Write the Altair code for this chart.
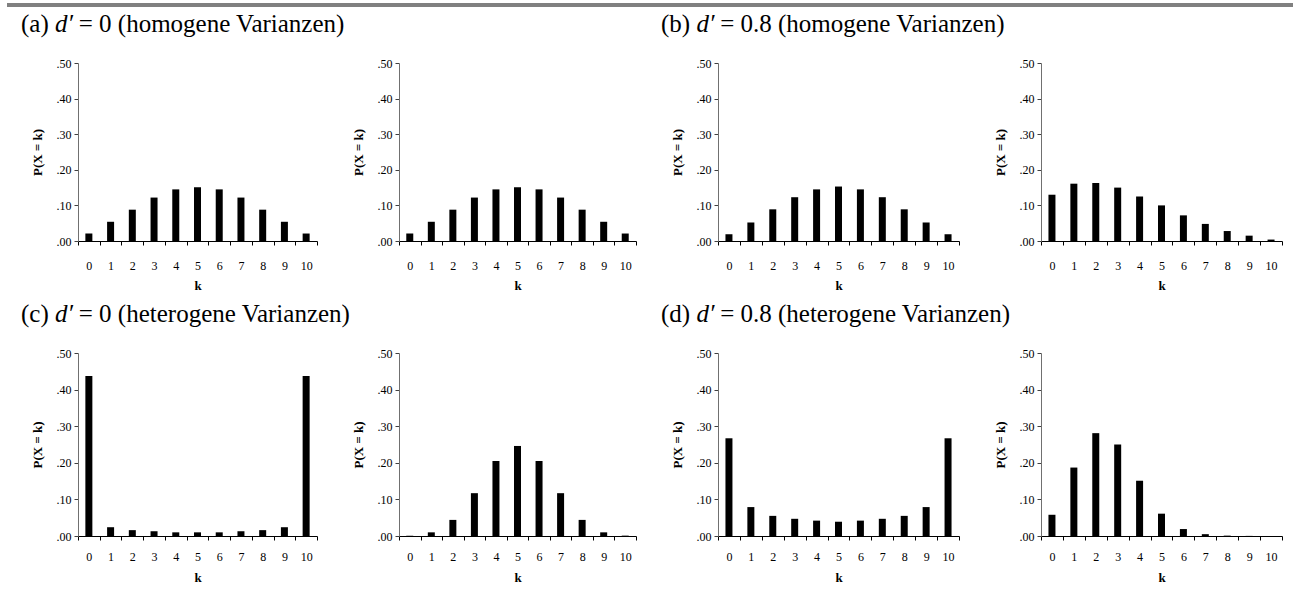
import altair as alt
import pandas as pd

K = list(range(11))
A_LEFT = [0.021, 0.054, 0.088, 0.122, 0.145, 0.151, 0.145, 0.122, 0.088, 0.054, 0.021]
A_RIGHT = [0.021, 0.054, 0.088, 0.122, 0.145, 0.151, 0.145, 0.122, 0.088, 0.054, 0.021]
B_LEFT = [0.019, 0.052, 0.089, 0.123, 0.145, 0.153, 0.145, 0.123, 0.089, 0.052, 0.019]
B_RIGHT = [0.130, 0.161, 0.163, 0.150, 0.125, 0.100, 0.072, 0.048, 0.028, 0.015, 0.004]
C_LEFT = [0.437, 0.024, 0.016, 0.013, 0.010, 0.010, 0.010, 0.013, 0.016, 0.024, 0.437]
C_RIGHT = [0.001, 0.010, 0.044, 0.117, 0.205, 0.246, 0.205, 0.117, 0.044, 0.010, 0.001]
D_LEFT = [0.267, 0.079, 0.055, 0.047, 0.042, 0.039, 0.042, 0.047, 0.055, 0.079, 0.267]
D_RIGHT = [0.058, 0.187, 0.281, 0.250, 0.151, 0.061, 0.019, 0.005, 0.001, 0.0003, 0.0]

# group titles: (label, italic part, rest)
TITLES = {
    "a": ("(a)", "d′", "= 0 (homogene Varianzen)"),
    "b": ("(b)", "d′", "= 0.8 (homogene Varianzen)"),
    "c": ("(c)", "d′", "= 0 (heterogene Varianzen)"),
    "d": ("(d)", "d′", "= 0.8 (heterogene Varianzen)"),
}
Y_TICKS = [0.0, 0.1, 0.2, 0.3, 0.4, 0.5]
FONT = "Liberation Serif"
TFS = 25  # group title font size

WIDTHS = [239, 237, 241, 241]
ROW_H = [178, 183]
X_LABEL_PAD = [15, 11]
X_TITLE_PAD = [8, 9]


def bars(values, w, h, r):
    df = pd.DataFrame({"k": K, "p": values})
    return alt.Chart(df).mark_bar(color="black", width=7).encode(
        x=alt.X(
            "k:O",
            title="k",
            scale=alt.Scale(paddingInner=0, paddingOuter=0),
            axis=alt.Axis(
                labelAngle=0, tickBand="extent", domainColor="black",
                tickColor="black", tickSize=4, labelPadding=X_LABEL_PAD[r],
                titlePadding=X_TITLE_PAD[r],
            ),
        ),
        y=alt.Y(
            "p:Q",
            title="P(X = k)",
            scale=alt.Scale(domain=[0, 0.5]),
            axis=alt.Axis(
                values=Y_TICKS,
                labelExpr="substring(format(datum.value, '.2f'), 1)",
                grid=False, domainColor="#707070", tickColor="#404040",
                tickSize=4, labelPadding=3, titlePadding=12,
            ),
        ),
    ).properties(width=w, height=h)


def title_layers(key):
    lab, ital, rest = TITLES[key]
    x0 = -57
    y0 = -31
    adv1 = (1.416 if key in ("b", "d") else 1.36) * TFS
    layers = []
    for txt, dx, style in ((lab, 0, "normal"), (ital, adv1, "italic"), (rest, adv1 + 0.95 * TFS, "normal")):
        layers.append(
            alt.Chart(alt.Data(values=[{"t": txt}])).mark_text(
                align="left", baseline="alphabetic", font=FONT, fontSize=TFS,
                fontStyle=style, color="black",
            ).encode(text="t:N", x=alt.value(x0 + dx), y=alt.value(y0))
        )
    return layers


def top_rule():
    return alt.Chart(alt.Data(values=[{"r": 1}])).mark_rule(
        color="#808080", strokeWidth=4
    ).encode(x=alt.value(-71), x2=alt.value(1215), y=alt.value(-58))


panels = []
row1 = [("a", A_LEFT), (None, A_RIGHT), ("b", B_LEFT), (None, B_RIGHT)]
row2 = [("c", C_LEFT), (None, C_RIGHT), ("d", D_LEFT), (None, D_RIGHT)]
for r, row in enumerate((row1, row2)):
    for c, (key, vals) in enumerate(row):
        layers = [bars(vals, WIDTHS[c], ROW_H[r], r)]
        if key is not None:
            layers += title_layers(key)
        if r == 0 and c == 0:
            layers.append(top_rule())
        panels.append(alt.layer(*layers).properties(width=WIDTHS[c], height=ROW_H[r]))

chart = alt.concat(
    *panels, columns=4, spacing={"row": 112, "column": 82}, bounds="flush", align="each"
).properties(
    padding={"left": 5, "top": 3, "right": 0, "bottom": 5}
).configure_view(stroke=None).configure_axis(
    labelFont=FONT, titleFont=FONT, labelFontSize=12, titleFontSize=13,
    labelColor="black", titleColor="black", titleFontWeight="bold", grid=False,
)

chart.save("out.html", embed_options={"renderer": "svg", "actions": False})
